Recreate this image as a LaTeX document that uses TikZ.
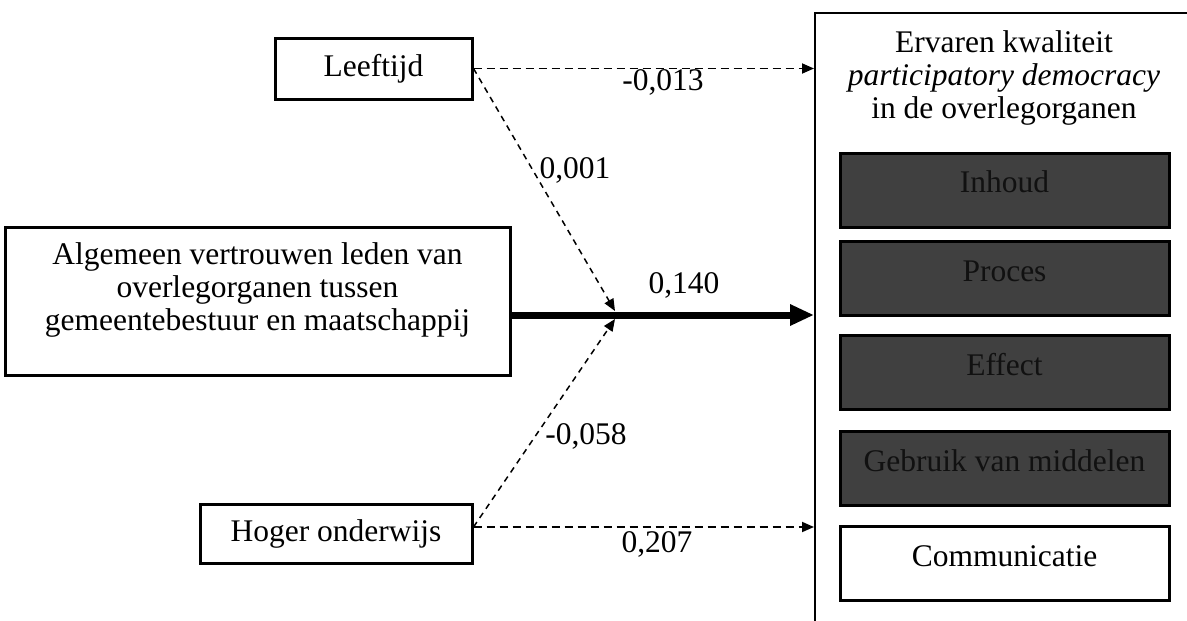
\documentclass[tikz,border=0pt]{standalone}
\usepackage{fontspec}
\setmainfont{Liberation Serif}
\usetikzlibrary{arrows.meta,calc}
\definecolor{boxgray}{RGB}{64,64,64}
\definecolor{txtdark}{RGB}{17,17,17}
\tikzset{
  fnt/.style={font=\fontsize{31.5}{33}\selectfont},
  inbox/.style={draw=black, line width=3pt, fill=white, inner sep=0pt, fnt},
  graybox/.style={draw=black, line width=3pt, fill=boxgray, text=txtdark, inner sep=0pt,
     minimum width=329pt, text height=39.5pt, text depth=34.5pt, fnt},
  whitebox/.style={graybox, fill=white, text=black},
  lbl/.style={inner sep=0pt, fnt},
  dasharrow/.style={line width=1.8pt, dash pattern=on 8pt off 5pt, -{Triangle[length=12pt,width=10pt]}},
  diagarrow/.style={line width=1.5pt, dash pattern=on 6pt off 5pt, -{Triangle[length=12pt,width=10pt]}},
  thickarrow/.style={line width=7pt, -{Triangle[length=24pt,width=20pt]}},
}
\begin{document}
\begin{tikzpicture}[x=1pt,y=-1pt]
\useasboundingbox (0,0) rectangle (1187,621);
\clip (0,0) rectangle (1187,621);
\fill[white] (0,0) rectangle (1187,621);

% outcome box (extends beyond the frame)
\node[draw=black, line width=2pt, anchor=north west, minimum width=420pt, minimum height=660pt, inner sep=0pt] (out) at (814,12) {};
\node[lbl, align=center] (title) at (1004,77.5) {Ervaren kwaliteit\\\textit{participatory democracy}\\in de overlegorganen};

\node[graybox] (inh) at (1004.5,190) {Inhoud};
\node[graybox] (pro) at (1004.5,278.5) {Proces};
\node[graybox] (eff) at (1004.5,372.5) {Effect};
\node[graybox] (geb) at (1004.5,468.5) {Gebruik van middelen};
\node[whitebox] (com) at (1004.5,563.5) {Communicatie};

% predictors
\node[inbox, minimum width=197pt, minimum height=61pt] (leef) at (373.5,68.5) {Leeftijd};
\node[inbox, minimum width=272pt, minimum height=59pt] (hog) at (336,533.5) {Hoger onderwijs};
\node[inbox, minimum width=505pt, minimum height=148pt] (alg) at (257.5,301) {};
\node[lbl, align=center] (algtxt) at (257.5,289.5) {Algemeen vertrouwen leden van\\overlegorganen tussen\\gemeentebestuur en maatschappij};

\coordinate (conv) at (615,315);
\coordinate (convtop) at (615,311);
\coordinate (convbot) at (615,319);
\coordinate (hogout) at ([yshift=6.5pt]hog.east);

% connectors
\draw[dasharrow] (leef.east) -- (leef.east -| out.west);
\draw[diagarrow] (leef.east) -- (convtop);
\draw[diagarrow] (hogout) -- (convbot);
\draw[dasharrow] (hogout) -- (hogout -| out.west);
\draw[thickarrow] (alg.east |- conv) -- (conv -| out.west);

% coefficients
\node[lbl] (c1) at (663,82) {-0,013};
\node[lbl] (c2) at (575,170) {0,001};
\node[lbl] (c3) at (684,285) {0,140};
\node[lbl] (c4) at (586,436) {-0,058};
\node[lbl] (c5) at (657,544) {0,207};
\end{tikzpicture}
\end{document}
